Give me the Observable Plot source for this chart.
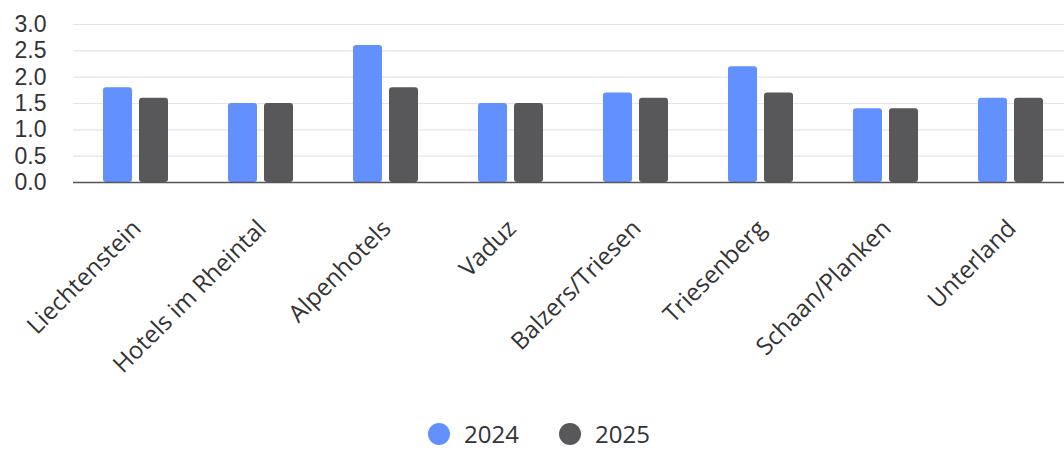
<!DOCTYPE html>
<html>
<head>
<meta charset="utf-8">
<script src="https://cdn.jsdelivr.net/npm/d3@7"></script>
<script src="https://cdn.jsdelivr.net/npm/@observablehq/plot@0.6"></script>
<style>
  html, body { margin: 0; padding: 0; background: #fff; }
  body { position: relative; width: 1064px; height: 450px; overflow: hidden; font-family: "Open Sans", "Noto Sans", sans-serif; }
  #chart svg { display: block; }
  #legend { position: absolute; left: 0; top: 417px; width: 1064px; display: flex; justify-content: center; align-items: center; gap: 40px; font-size: 24px; line-height: normal; color: #333; padding-left: 14px; box-sizing: border-box; }
  .item { display: flex; align-items: center; gap: 14px; }
  .dot { width: 22px; height: 22px; border-radius: 50%; display: inline-block; }
</style>
</head>
<body>
<div id="chart"></div>
<div id="legend"></div>
<script>
const categories = ["Liechtenstein", "Hotels im Rheintal", "Alpenhotels", "Vaduz", "Balzers/Triesen", "Triesenberg", "Schaan/Planken", "Unterland"];
const series = ["2024", "2025"];
const values2024 = [1.8, 1.5, 2.6, 1.5, 1.7, 2.2, 1.4, 1.6];
const values2025 = [1.6, 1.5, 1.8, 1.5, 1.6, 1.7, 1.4, 1.6];
const yTicks = [0, 0.5, 1.0, 1.5, 2.0, 2.5, 3.0];
const colors = ["#6290ff", "#58585a"];

const data = [];
categories.forEach((c, i) => {
  data.push({category: c, series: series[0], value: values2024[i]});
  data.push({category: c, series: series[1], value: values2025[i]});
});

const chart = Plot.plot({
  width: 1064,
  height: 410,
  marginTop: 24,
  marginBottom: 228,
  marginLeft: 73,
  marginRight: 0,
  style: {fontFamily: "'Open Sans', 'Noto Sans', sans-serif", color: "#333", background: "#fff", overflow: "hidden"},
  fx: {domain: categories, padding: 0, label: null, axis: null, range: [73, 1073]},
  x: {domain: series, axis: null, paddingInner: 0.194, paddingOuter: 0.833},
  y: {domain: [0, 3], label: null},
  color: {domain: series, range: colors},
  marks: [
    Plot.gridY(yTicks, {stroke: "#e4e4e4", strokeOpacity: 1, strokeWidth: 1.2}),
    Plot.barY(data, {fx: "category", x: "series", y: "value", fill: "series", rx: 3}),
    Plot.ruleY([0], {stroke: "#555", strokeWidth: 1.5}),
    Plot.axisY(yTicks, {tickSize: 0, tickPadding: 27, tickFormat: d => d.toFixed(1), fontSize: 23, fontFamily: "'Liberation Sans', Arial, sans-serif", label: null}),
    Plot.axisFx({anchor: "bottom", tickRotate: -45, tickSize: 0, tickPadding: 42, dx: 1, fontSize: 24, label: null})
  ]
});
document.getElementById("chart").appendChild(chart);

const legend = document.getElementById("legend");
series.forEach((s, i) => {
  const item = document.createElement("div");
  item.className = "item";
  const dot = document.createElement("span");
  dot.className = "dot";
  dot.style.background = colors[i];
  const label = document.createElement("span");
  label.textContent = s;
  item.appendChild(dot);
  item.appendChild(label);
  legend.appendChild(item);
});
</script>
</body>
</html>
